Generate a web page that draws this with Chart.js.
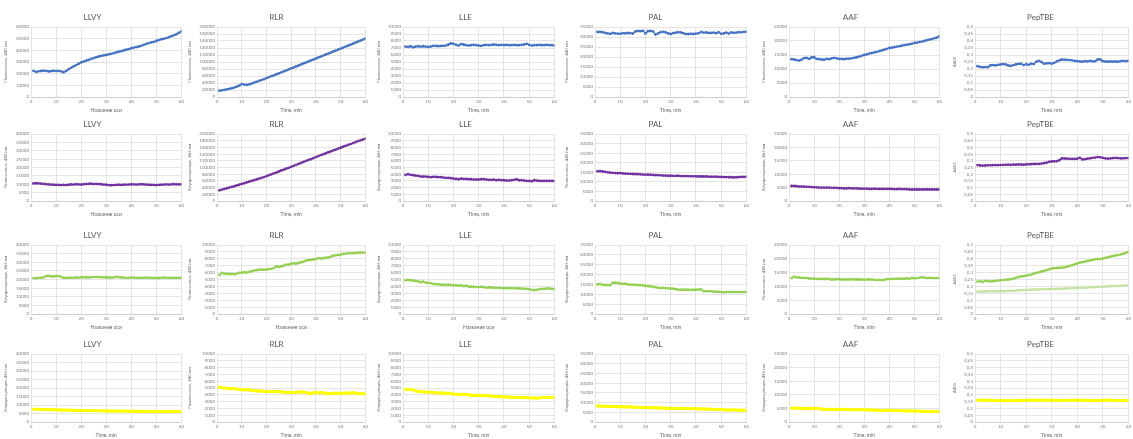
<!DOCTYPE html>
<html lang="ru">
<head>
<meta charset="UTF-8">
<title>Peptide kinetics</title>
<script src="https://cdn.jsdelivr.net/npm/chart.js"></script>
<style>
  body { margin: 0; background: #fff; width: 1133px; height: 439px; position: relative; overflow: hidden; }
  canvas { position: absolute; }
</style>
</head>
<body>
<script>
// time, min
const times = [1, 2, 3, 4, 5, 6, 7, 8, 9, 10, 11, 12, 13, 14, 15, 16, 17, 18, 19, 20,
  21, 22, 23, 24, 25, 26, 27, 28, 29, 30, 31, 32, 33, 34, 35, 36, 37, 38, 39, 40,
  41, 42, 43, 44, 45, 46, 47, 48, 49, 50, 51, 52, 53, 54, 55, 56, 57, 58, 59, 60];

const peptides = ['LLVY', 'RLR', 'LLE', 'PAL', 'AAF', 'PepTBE'];

// row 1 (blue)
const llvyBlue = [22400, 21500, 22000, 22300, 22500, 22400, 21900, 22100, 22600, 22200,
  22400, 22000, 21200, 22300, 23800, 25000, 26200, 27400, 28500, 29600,
  30400, 31100, 31800, 32600, 33400, 34100, 34700, 35200, 35600, 36100,
  36500, 37000, 37600, 38200, 38800, 39300, 39900, 40500, 41100, 41800,
  42300, 42800, 43300, 43900, 44700, 45500, 46200, 46800, 47300, 48000,
  48800, 49500, 49900, 50500, 51300, 52100, 52900, 53800, 54900, 56200];
const rlrBlue = [18000, 19000, 20500, 22000, 23500, 25000, 27000, 29500, 32500, 37000,
  35500, 34500, 36000, 38500, 41000, 43500, 46000, 48500, 51000, 54000,
  57000, 59500, 62000, 65000, 67500, 70500, 73000, 76000, 79000, 82000,
  84500, 87500, 90000, 93000, 96000, 98500, 101500, 104500, 107000, 110000,
  113000, 115500, 118500, 121500, 124000, 127000, 130000, 132500, 135500, 138000,
  141000, 144000, 146500, 149500, 152500, 155500, 158500, 161000, 164000, 167000];
const lleBlue = [7200, 7150, 7250, 7100, 7200, 7250, 7200, 7250, 7200, 7150,
  7200, 7300, 7300, 7250, 7300, 7300, 7350, 7500, 7650, 7600,
  7450, 7350, 7550, 7500, 7400, 7350, 7400, 7450, 7400, 7350,
  7300, 7400, 7450, 7400, 7450, 7500, 7450, 7400, 7450, 7400,
  7450, 7400, 7400, 7450, 7400, 7400, 7450, 7500, 7600, 7450,
  7350, 7400, 7400, 7450, 7400, 7400, 7450, 7400, 7400, 7350];
const palBlue = [32500, 32600, 32400, 32000, 31800, 31600, 32000, 31800, 31700, 31600,
  31900, 31800, 32000, 31900, 31700, 32800, 33000, 32900, 33100, 31800,
  32900, 33000, 32800, 31200, 31800, 32400, 32600, 32300, 31800, 31500,
  31900, 32200, 32400, 32300, 31900, 31400, 31500, 31600, 31500, 31700,
  31800, 32500, 32200, 32300, 32000, 32100, 32200, 31900, 32400, 31600,
  31800, 32200, 31700, 32300, 32100, 32200, 32400, 32300, 32600, 32500];
const aafBlue = [13500, 13400, 13200, 13000, 13300, 13900, 14000, 13600, 14100, 14200,
  13600, 13500, 13400, 13300, 13600, 13500, 13800, 14000, 13800, 13600,
  13600, 13500, 13700, 13700, 13800, 14000, 14200, 14400, 14700, 15000,
  15200, 15500, 15700, 15900, 16100, 16400, 16600, 16900, 17200, 17500,
  17600, 17800, 18000, 18100, 18300, 18500, 18700, 18800, 19000, 19300,
  19400, 19600, 19800, 20000, 20300, 20500, 20700, 21000, 21200, 21700];
const tbeBlue = [0.22, 0.215, 0.212, 0.214, 0.213, 0.225, 0.228, 0.225, 0.23, 0.232,
  0.235, 0.232, 0.225, 0.222, 0.228, 0.232, 0.236, 0.238, 0.228, 0.234,
  0.23, 0.238, 0.235, 0.252, 0.258, 0.25, 0.238, 0.24, 0.242, 0.238,
  0.244, 0.255, 0.262, 0.268, 0.266, 0.265, 0.264, 0.262, 0.258, 0.256,
  0.254, 0.252, 0.256, 0.254, 0.258, 0.254, 0.256, 0.268, 0.268, 0.256,
  0.254, 0.252, 0.254, 0.252, 0.254, 0.252, 0.256, 0.258, 0.256, 0.258];

// row 2 (purple)
const llvyPurple = [10500, 10600, 10500, 10400, 10200, 10000, 9900, 9800, 9700, 9600,
  9600, 9500, 9600, 9500, 9700, 9900, 9800, 10000, 9900, 9800,
  10000, 10100, 10200, 10300, 10100, 10200, 10100, 10000, 9800, 9700,
  9500, 9400, 9500, 9600, 9700, 9600, 9700, 9800, 9800, 9900,
  9900, 9800, 9900, 10000, 9900, 9800, 9700, 9600, 9600, 9500,
  9600, 9700, 9800, 9900, 9800, 9900, 10000, 9900, 9900, 9900];
const rlrPurple = [32000, 34000, 36000, 38000, 40000, 42000, 44000, 46500, 48500, 51000,
  53000, 55500, 57500, 60000, 62000, 64500, 67000, 69000, 71500, 74000,
  77000, 79500, 82500, 85000, 88000, 91000, 93500, 96500, 99000, 102000,
  105000, 108000, 111000, 113500, 116500, 119500, 122500, 125000, 128000, 131000,
  134000, 137000, 139500, 142500, 145500, 148000, 151000, 153500, 156500, 159000,
  162000, 164500, 167500, 170000, 173000, 175500, 178500, 181000, 183500, 186000];
const llePurple = [3900, 4000, 3900, 3850, 3800, 3750, 3650, 3650, 3650, 3600,
  3550, 3600, 3600, 3550, 3550, 3500, 3450, 3450, 3400, 3350,
  3300, 3250, 3350, 3300, 3300, 3250, 3250, 3200, 3200, 3200,
  3250, 3250, 3200, 3150, 3150, 3200, 3100, 3150, 3100, 3100,
  3050, 3050, 3100, 3150, 3250, 3100, 3100, 3050, 3000, 3000,
  2950, 3100, 3050, 3000, 3000, 3000, 3000, 3000, 3000, 3000];
const palPurple = [15500, 15600, 15400, 15200, 15000, 14800, 14700, 14600, 14500, 14600,
  14400, 14300, 14200, 14200, 14100, 14000, 14000, 13900, 13800, 13800,
  13700, 13800, 13600, 13500, 13500, 13400, 13300, 13300, 13200, 13200,
  13100, 13100, 13200, 13000, 13000, 13000, 13000, 12900, 12900, 12900,
  12800, 12800, 12800, 12800, 12700, 12700, 12700, 12700, 12600, 12600,
  12500, 12500, 12400, 12400, 12300, 12400, 12500, 12600, 12600, 12700];
const aafPurple = [5600, 5600, 5500, 5400, 5400, 5400, 5300, 5300, 5200, 5100,
  5100, 5000, 5000, 5000, 5000, 5000, 4900, 4900, 4900, 4800,
  4800, 4700, 4700, 4800, 4700, 4700, 4700, 4600, 4600, 4600,
  4600, 4500, 4500, 4600, 4500, 4500, 4500, 4500, 4500, 4500,
  4500, 4400, 4400, 4500, 4400, 4400, 4400, 4300, 4300, 4300,
  4300, 4300, 4300, 4300, 4300, 4300, 4300, 4300, 4300, 4300];
const tbePurple = [0.268, 0.265, 0.264, 0.265, 0.266, 0.266, 0.267, 0.268, 0.267, 0.268,
  0.27, 0.27, 0.271, 0.27, 0.272, 0.271, 0.273, 0.272, 0.271, 0.273,
  0.274, 0.275, 0.276, 0.277, 0.277, 0.279, 0.282, 0.286, 0.292, 0.295,
  0.296, 0.297, 0.305, 0.318, 0.317, 0.316, 0.315, 0.315, 0.314, 0.316,
  0.322, 0.31, 0.312, 0.316, 0.318, 0.322, 0.324, 0.328, 0.326, 0.322,
  0.318, 0.316, 0.318, 0.32, 0.322, 0.32, 0.318, 0.318, 0.32, 0.32];

// row 3 (green)
const llvyGreen = [20800, 20700, 20900, 21000, 21200, 22000, 22100, 21800, 21700, 21900,
  22000, 21600, 21000, 20900, 21000, 21100, 21000, 21200, 21100, 21300,
  21200, 21300, 21200, 21300, 21400, 21500, 21400, 21300, 21200, 21300,
  21200, 21100, 21200, 21500, 21300, 21200, 21100, 21000, 21000, 21100,
  21100, 21000, 21000, 21000, 21000, 21100, 21000, 20900, 21000, 20800,
  20900, 21000, 21100, 21000, 21000, 21000, 20900, 21000, 21000, 21000];
const rlrGreen = [5650, 5950, 5850, 5800, 5800, 5800, 5750, 5850, 5950, 6000,
  6050, 6000, 6100, 6200, 6300, 6350, 6400, 6450, 6400, 6450,
  6500, 6550, 6650, 6900, 6850, 6900, 7000, 7150, 7150, 7300,
  7350, 7300, 7400, 7500, 7600, 7750, 7800, 7850, 7900, 7950,
  8100, 8050, 8050, 8150, 8200, 8300, 8450, 8500, 8550, 8600,
  8700, 8750, 8800, 8800, 8800, 8850, 8850, 8900, 8900, 8900];
const lleGreen = [4900, 4950, 4900, 4850, 4800, 4750, 4600, 4700, 4550, 4500,
  4450, 4350, 4300, 4300, 4250, 4250, 4200, 4250, 4200, 4150,
  4150, 4100, 4150, 4050, 4100, 3950, 3950, 3950, 3900, 3900,
  3950, 3900, 3800, 3850, 3850, 3800, 3800, 3800, 3750, 3750,
  3750, 3700, 3750, 3750, 3700, 3700, 3700, 3650, 3650, 3600,
  3500, 3450, 3500, 3600, 3650, 3650, 3700, 3700, 3650, 3600];
const palGreen = [15000, 15200, 14800, 14700, 14600, 14600, 15800, 15900, 15800, 15400,
  15300, 15400, 15000, 14900, 14900, 14800, 14700, 14600, 14500, 14200,
  14100, 14000, 13800, 13600, 13300, 13200, 13200, 13100, 13000, 12900,
  12800, 12600, 12300, 12300, 12300, 12400, 12300, 12200, 12300, 12300,
  12400, 12500, 11600, 11500, 11500, 11500, 11400, 11300, 11200, 11100,
  11000, 11100, 11100, 11100, 11100, 11100, 11100, 11100, 11100, 11200];
const aafGreen = [13000, 13500, 13300, 13200, 13100, 13100, 13000, 12900, 12800, 12800,
  12700, 12700, 12700, 12600, 12800, 12600, 12500, 12500, 12600, 12600,
  12500, 12500, 12500, 12500, 12600, 12500, 12500, 12500, 12500, 12400,
  12500, 12500, 12500, 12400, 12300, 12400, 12300, 12400, 12600, 12600,
  12700, 12700, 12800, 12700, 12800, 12800, 12900, 12800, 13000, 12900,
  13000, 13100, 13300, 13200, 13000, 13100, 13000, 13000, 13000, 13000];
const tbeGreen = [0.235, 0.238, 0.232, 0.24, 0.238, 0.236, 0.238, 0.24, 0.242, 0.244,
  0.246, 0.248, 0.25, 0.252, 0.255, 0.262, 0.268, 0.272, 0.274, 0.278,
  0.282, 0.286, 0.292, 0.298, 0.302, 0.308, 0.312, 0.318, 0.324, 0.33,
  0.332, 0.334, 0.334, 0.336, 0.338, 0.342, 0.348, 0.354, 0.36, 0.366,
  0.372, 0.376, 0.38, 0.384, 0.388, 0.392, 0.396, 0.398, 0.398, 0.402,
  0.406, 0.412, 0.416, 0.42, 0.424, 0.428, 0.432, 0.436, 0.442, 0.45];
const tbeGreenLight = [0.162, 0.162, 0.163, 0.163, 0.163, 0.164, 0.164, 0.165, 0.165, 0.166,
  0.165, 0.166, 0.167, 0.168, 0.169, 0.17, 0.171, 0.172, 0.173, 0.174,
  0.175, 0.176, 0.177, 0.177, 0.178, 0.179, 0.18, 0.18, 0.18, 0.181,
  0.182, 0.182, 0.183, 0.183, 0.184, 0.185, 0.186, 0.186, 0.187, 0.188,
  0.189, 0.19, 0.191, 0.192, 0.193, 0.194, 0.195, 0.196, 0.197, 0.198,
  0.199, 0.2, 0.201, 0.202, 0.203, 0.203, 0.204, 0.205, 0.206, 0.207];

// row 4 (yellow)
const llvyYellow = [7600, 7500, 7400, 7300, 7500, 7300, 7300, 7200, 7200, 7100,
  7200, 7100, 7000, 7100, 7000, 6900, 6800, 6900, 6800, 6700,
  6800, 6800, 6700, 6600, 6600, 6700, 6600, 6500, 6600, 6500,
  6500, 6500, 6400, 6400, 6500, 6400, 6400, 6300, 6300, 6400,
  6300, 6300, 6200, 6200, 6300, 6200, 6200, 6200, 6100, 6200,
  6200, 6100, 6100, 6200, 6100, 6100, 6100, 6200, 6100, 6100];
const rlrYellow = [5150, 5050, 5000, 4950, 4950, 4900, 4900, 4850, 4800, 4750,
  4700, 4800, 4700, 4650, 4600, 4600, 4550, 4550, 4500, 4500,
  4450, 4500, 4450, 4450, 4500, 4450, 4400, 4350, 4400, 4350,
  4350, 4350, 4400, 4450, 4400, 4350, 4250, 4200, 4300, 4350,
  4250, 4300, 4350, 4200, 4150, 4200, 4200, 4250, 4250, 4200,
  4250, 4250, 4300, 4250, 4300, 4250, 4150, 4150, 4150, 4200];
const lleYellow = [4800, 4750, 4800, 4750, 4550, 4500, 4450, 4450, 4400, 4400,
  4400, 4350, 4300, 4250, 4250, 4300, 4200, 4250, 4150, 4100,
  4100, 4050, 4050, 4100, 4050, 4000, 3950, 3900, 3950, 3900,
  3900, 3850, 3850, 3850, 3800, 3800, 3750, 3750, 3700, 3700,
  3700, 3650, 3650, 3650, 3600, 3600, 3600, 3600, 3600, 3550,
  3550, 3550, 3500, 3550, 3600, 3600, 3600, 3650, 3650, 3600];
const palYellow = [8200, 8200, 8100, 8100, 8100, 8000, 8000, 8000, 7900, 7800,
  7900, 7800, 7700, 7700, 7700, 7600, 7600, 7500, 7500, 7400,
  7400, 7300, 7300, 7300, 7200, 7200, 7200, 7100, 7100, 7100,
  7100, 7000, 7000, 7100, 7000, 6900, 6900, 6900, 6800, 6800,
  6800, 6700, 6700, 6700, 6600, 6600, 6500, 6500, 6400, 6400,
  6300, 6200, 6200, 6200, 6300, 6200, 6100, 6100, 6100, 6000];
const aafYellow = [5100, 5100, 5100, 5100, 5000, 5000, 5000, 5100, 5000, 5000,
  5000, 4900, 4800, 4600, 4700, 4700, 4600, 4600, 4500, 4600,
  4700, 4600, 4600, 4500, 4500, 4600, 4500, 4500, 4500, 4500,
  4400, 4400, 4400, 4400, 4300, 4300, 4200, 4200, 4300, 4300,
  4200, 4200, 4200, 4200, 4100, 4100, 4100, 4100, 4100, 4000,
  4000, 4000, 4000, 3900, 3900, 3900, 3800, 3800, 3800, 3800];
const tbeYellow = [0.16, 0.161, 0.161, 0.16, 0.16, 0.159, 0.158, 0.158, 0.157, 0.157,
  0.156, 0.156, 0.157, 0.157, 0.157, 0.158, 0.157, 0.158, 0.158, 0.159,
  0.16, 0.16, 0.161, 0.161, 0.16, 0.16, 0.16, 0.161, 0.161, 0.161,
  0.16, 0.159, 0.159, 0.159, 0.16, 0.16, 0.16, 0.16, 0.161, 0.16,
  0.16, 0.159, 0.158, 0.158, 0.157, 0.158, 0.158, 0.159, 0.16, 0.16,
  0.161, 0.161, 0.16, 0.159, 0.159, 0.158, 0.158, 0.158, 0.158, 0.158];

// y axis ranges per row / column
const yMax = [
  [60000, 200000, 10000, 35000, 25000, 0.5],
  [40000, 200000, 10000, 35000, 25000, 0.5],
  [40000, 10000, 10000, 35000, 25000, 0.5],
  [40000, 10000, 10000, 35000, 25000, 0.5]
];
const yStep = [
  [10000, 20000, 1000, 5000, 5000, 0.05],
  [5000, 20000, 1000, 5000, 5000, 0.05],
  [5000, 1000, 1000, 5000, 5000, 0.05],
  [5000, 1000, 1000, 5000, 5000, 0.05]
];

const EN = 'Fluorescence, 440 nm';
const RU = 'Флуоресценция, 465 нм';
const yTitles = [
  [EN, EN, EN, EN, EN, 'A405'],
  [EN, RU, RU, EN, RU, 'A405'],
  [RU, EN, RU, RU, EN, 'A405'],
  [RU, EN, RU, RU, RU, 'A405']
];
const NA = 'Название оси';
const TM = 'Time, min';
const xTitles = [
  [NA, TM, TM, TM, TM, TM],
  [NA, TM, TM, TM, TM, TM],
  [NA, NA, NA, TM, TM, TM],
  [TM, TM, TM, TM, TM, TM]
];

const series = [
  [[llvyBlue], [rlrBlue], [lleBlue], [palBlue], [aafBlue], [tbeBlue]],
  [[llvyPurple], [rlrPurple], [llePurple], [palPurple], [aafPurple], [tbePurple]],
  [[llvyGreen], [rlrGreen], [lleGreen], [palGreen], [aafGreen], [tbeGreen, tbeGreenLight]],
  [[llvyYellow], [rlrYellow], [lleYellow], [palYellow], [aafYellow], [tbeYellow]]
];

// look
const rowColors = [['#4472c4'], ['#7030a0'], ['#92d050', '#c4e3a2'], ['#ffff00']];
const rowLine = [1.4, 1.4, 1.5, 2.6];
const rowPoint = [1.4, 1.4, 1.4, 1.7];

// layout (plot areas)
const colLeft = [31, 217, 403, 595, 789, 975];
const colRight = [183, 367, 556, 748, 941, 1130];
const colAxisW = [29, 31, 28, 32, 29, 24];
const rowTop = [27, 134, 245, 354];
const rowBottom = [97, 201, 314, 422];
const TITLE_H = 15;
const XAXIS_H = 16;

Chart.defaults.font.family = 'Lato, "Liberation Sans", sans-serif';

function fmtTick(v, isAbs) {
  if (isAbs) {
    return v === 0 ? '0' : String(Math.round(v * 100) / 100).replace('.', ',');
  }
  return String(Math.round(v));
}

for (let r = 0; r < 4; r++) {
  for (let c = 0; c < 6; c++) {
    const cv = document.createElement('canvas');
    const w = colAxisW[c] + (colRight[c] - colLeft[c]) + 3;
    const h = TITLE_H + (rowBottom[r] - rowTop[r]) + XAXIS_H;
    cv.width = w;
    cv.height = h;
    cv.style.left = (colLeft[c] - colAxisW[c]) + 'px';
    cv.style.top = (rowTop[r] - TITLE_H) + 'px';
    document.body.appendChild(cv);

    const isAbs = c === 5;
    const datasets = series[r][c].map((vals, k) => {
      const col = rowColors[r][k];
      return {
        data: times.map((t, i) => ({ x: t, y: vals[i] })),
        borderColor: col,
        backgroundColor: col,
        borderWidth: rowLine[r],
        pointRadius: rowPoint[r],
        pointBorderWidth: 0,
        pointBackgroundColor: col,
        tension: 0
      };
    });

    new Chart(cv, {
      type: 'line',
      data: { datasets: datasets },
      options: {
        responsive: false,
        animation: false,
        devicePixelRatio: 1,
        layout: { padding: { left: 0, right: 3, top: 0, bottom: 0 } },
        plugins: {
          legend: { display: false },
          tooltip: { enabled: false },
          title: {
            display: true,
            text: peptides[c],
            color: '#595959',
            font: { size: 8, weight: 'normal', lineHeight: 1.25 },
            padding: { top: 0, bottom: 5 }
          }
        },
        scales: {
          x: {
            type: 'linear',
            min: 0,
            max: 60,
            ticks: { stepSize: 10, autoSkip: false, color: '#808080', font: { size: 4.5 }, padding: 2, maxRotation: 0 },
            grid: { color: '#dadada', lineWidth: 0.7, drawTicks: false },
            border: { color: '#c8c8c8', width: 0.8 },
            title: { display: true, text: xTitles[r][c], color: '#666', font: { size: 5 }, padding: { top: 0, bottom: 0 } },
            afterFit: s => { s.height = XAXIS_H; }
          },
          y: {
            min: 0,
            max: yMax[r][c],
            ticks: {
              stepSize: yStep[r][c],
              autoSkip: false,
              color: '#808080',
              font: { size: 4.5 },
              padding: 2,
              callback: v => fmtTick(v, isAbs)
            },
            grid: { color: '#dadada', lineWidth: 0.7, drawTicks: false },
            border: { display: false },
            title: { display: true, text: yTitles[r][c], color: '#666', font: { size: 4.3 }, padding: { top: 1, bottom: 0 } },
            afterFit: s => { s.width = colAxisW[c]; }
          }
        }
      }
    });
  }
}
</script>
</body>
</html>
